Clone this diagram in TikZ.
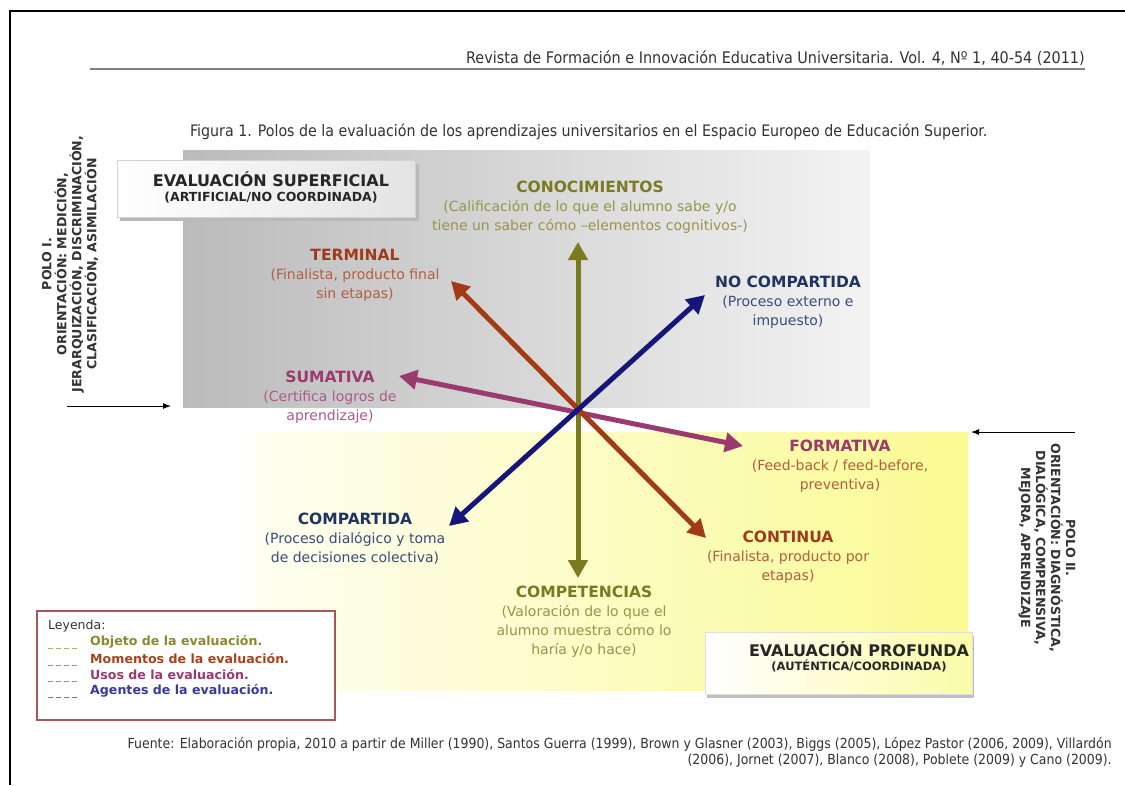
\documentclass[tikz,border=0pt]{standalone}
\usepackage{fontspec}
\setmainfont{DejaVu Sans}
\newfontfamily\condf{DejaVu Sans Condensed}
\usetikzlibrary{arrows.meta}
\definecolor{olvA}{HTML}{7A7A1E}
\definecolor{olvT}{HTML}{7A7A22}
\definecolor{olvS}{HTML}{95954A}
\definecolor{brnA}{HTML}{A23A16}
\definecolor{brnT}{HTML}{A03A1C}
\definecolor{brnS}{HTML}{B25E40}
\definecolor{magA}{HTML}{9A3B70}
\definecolor{magT}{HTML}{9C3A6C}
\definecolor{magS}{HTML}{AE5A88}
\definecolor{navA}{HTML}{16167A}
\definecolor{navT}{HTML}{1E3560}
\definecolor{navS}{HTML}{3A4C7C}
\definecolor{hdr}{HTML}{333333}
\definecolor{grayL}{HTML}{BBBBBB}
\definecolor{grayR}{HTML}{F3F3F3}
\definecolor{yelL}{HTML}{FEFEF2}
\definecolor{yelR}{HTML}{FAFA92}
\definecolor{legB}{HTML}{A85858}
\definecolor{lgO}{HTML}{8A8A2C}
\definecolor{lgB}{HTML}{A8421E}
\definecolor{lgM}{HTML}{9A3A70}
\definecolor{lgN}{HTML}{3A3A9C}
\tikzset{
  arr/.style={line width=5pt,{Triangle[length=18pt,width=19pt]}-{Triangle[length=18pt,width=19pt]}},
  lbl/.style={align=center,inner sep=0pt,font=\fontsize{14}{19}\selectfont},
  polo/.style={align=center,inner sep=0pt,font=\bfseries\fontsize{12.6}{15}\selectfont,text=hdr},
  legrow/.style={anchor=west,inner sep=0pt,font=\bfseries\fontsize{12.6}{14}\selectfont},
  legdash/.style={line width=1pt,dash pattern=on 5pt off 3pt},
  pointer/.style={line width=1pt,-{Latex[length=8pt,width=6pt]}}
}
\newcommand\ttlb[1]{{\bfseries\fontsize{15.5}{19}\selectfont #1}}
\begin{document}
\begin{tikzpicture}[x=1pt,y=-1pt]
\useasboundingbox (0,0) rectangle (1125,785);
\fill[white] (0,0) rectangle (1125,785);
% page frame
\draw[line width=2.2pt,black] (10,785) -- (10,11) -- (1125,11);
% header
\node[anchor=base east,inner sep=0pt,font=\condf\fontsize{16}{18}\selectfont,text=hdr] (hdr) at (1085,63) {Revista de Formación e Innovación Educativa Universitaria. Vol. 4, Nº 1, 40-54 (2011)};
\draw[line width=1.2pt,gray] (90,69) -- (1085,69);
% caption
\node[anchor=base west,inner sep=0pt,font=\condf\fontsize{15.8}{18}\selectfont,text=hdr] (cap) at (190,136) {Figura 1. Polos de la evaluación de los aprendizajes universitarios en el Espacio Europeo de Educación Superior.};
% background regions
\shade[left color=grayL,right color=grayR] (183,150) rectangle (870,407);
\shade[left color=yelL,right color=yelR] (255,432) rectangle (968,690);
% superficial box
\fill[gray!55] (120,164) rectangle (419,221);
\shade[left color=white,right color=gray!22,draw=gray!35] (117,160) rectangle (415,217);
\node[align=center,inner sep=0pt,text=black!85] (sup) at (271,187) {{\bfseries\fontsize{16}{18}\selectfont EVALUACIÓN SUPERFICIAL}\\[3pt]{\bfseries\fontsize{12.5}{13}\selectfont (ARTIFICIAL/NO COORDINADA)}};
% profunda box
\fill[gray!50] (707,636) rectangle (974,698);
\shade[left color=white,right color=yelR!80,draw=gray!25] (705,632) rectangle (972,694);
\node[align=center,inner sep=0pt,text=black!85] (prof) at (859,657) {{\bfseries\fontsize{16}{18}\selectfont EVALUACIÓN PROFUNDA}\\[2pt]{\bfseries\fontsize{11.5}{13}\selectfont (AUTÉNTICA/COORDINADA)}};
% polo labels
\node[polo,rotate=90] (p1) at (70,264) {POLO I.\\ORIENTACIÓN: MEDICIÓN,\\JERARQUIZACIÓN, DISCRIMINACIÓN,\\CLASIFICACIÓN, ASIMILACIÓN};
\node[polo,rotate=-90] (p2) at (1047,548) {POLO II.\\ORIENTACIÓN: DIAGNÓSTICA,\\DIALÓGICA, COMPRENSIVA,\\MEJORA, APRENDIZAJE};
\coordinate (pa1) at (67,406);
\coordinate (pa2) at (171,406);
\coordinate (pb1) at (1075,432);
\coordinate (pb2) at (971,432);
\draw[pointer] (pa1) -- (pa2);
\draw[pointer] (pb1) -- (pb2);
% arrows
\coordinate (c) at (578,411);
\coordinate (oT) at (578,242);
\coordinate (oB) at (578,578);
\coordinate (mL) at (399,376);
\coordinate (mR) at (743,446);
\coordinate (bT) at (451,281);
\coordinate (bB) at (706,538);
\coordinate (nT) at (705,295);
\coordinate (nB) at (449,526);
\draw[arr,olvA] (oT) -- (oB);
\draw[arr,magA] (mL) -- (mR);
\draw[arr,brnA] (bT) -- (bB);
\draw[arr,navA] (nT) -- (nB);
% labels
\node[lbl,text=olvS] (con) at (590,207) {\textcolor{olvT}{\ttlb{CONOCIMIENTOS}}\\(Calificación de lo que el alumno sabe y/o\\tiene un saber cómo –elementos cognitivos-)};
\node[lbl,text=brnS] (ter) at (355,275) {\textcolor{brnT}{\ttlb{TERMINAL}}\\(Finalista, producto final\\sin etapas)};
\node[lbl,text=navS] (noc) at (788,302) {\textcolor{navT}{\ttlb{NO COMPARTIDA}}\\(Proceso externo e\\impuesto)};
\node[lbl,text=magS] (sum) at (330,397) {\textcolor{magT}{\ttlb{SUMATIVA}}\\(Certifica logros de\\aprendizaje)};
\node[lbl,text=brnS] (for) at (840,466) {\textcolor{magT}{\ttlb{FORMATIVA}}\\(Feed-back / feed-before,\\preventiva)};
\node[lbl,text=navS] (com) at (355,539) {\textcolor{navT}{\ttlb{COMPARTIDA}}\\(Proceso dialógico y toma\\de decisiones colectiva)};
\node[lbl,text=brnS] (cnt) at (788,557) {\textcolor{brnT}{\ttlb{CONTINUA}}\\(Finalista, producto por\\etapas)};
\node[lbl,text=olvS] (cmp) at (584,622) {\textcolor{olvT}{\ttlb{COMPETENCIAS}}\\(Valoración de lo que el\\alumno muestra cómo lo\\haría y/o hace)};
% legend
\draw[legB,line width=1.2pt,fill=white] (37,611) rectangle (335,720);
\node[anchor=west,inner sep=0pt,font=\fontsize{12.5}{14}\selectfont,text=hdr] (ley) at (48,626) {Leyenda:};
\node[legrow,text=lgO] (l1) at (90,642) {Objeto de la evaluación.};
\node[legrow,text=lgB] (l2) at (90,659) {Momentos de la evaluación.};
\node[legrow,text=lgM] (l3) at (90,675) {Usos de la evaluación.};
\node[legrow,text=lgN] (l4) at (90,691) {Agentes de la evaluación.};
\coordinate (d1a) at (48,648); \coordinate (d1b) at (80,648);
\coordinate (d2a) at (48,665); \coordinate (d2b) at (80,665);
\coordinate (d3a) at (48,681); \coordinate (d3b) at (80,681);
\coordinate (d4a) at (48,697); \coordinate (d4b) at (80,697);
\draw[legdash,lgO!70] (d1a) -- (d1b);
\draw[legdash,lgB!70] (d2a) -- (d2b);
\draw[legdash,lgM!70] (d3a) -- (d3b);
\draw[legdash,lgN!70] (d4a) -- (d4b);
% footer
\node[anchor=north east,align=right,inner sep=0pt,font=\condf\fontsize{13.9}{16}\selectfont,text=hdr] (fte) at (1112,737) {Fuente: Elaboración propia, 2010 a partir de Miller (1990), Santos Guerra (1999), Brown y Glasner (2003), Biggs (2005), López Pastor (2006, 2009), Villardón\\(2006), Jornet (2007), Blanco (2008), Poblete (2009) y Cano (2009).};
\end{tikzpicture}
\end{document}
